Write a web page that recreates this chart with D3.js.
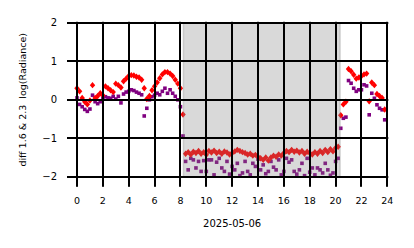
<!doctype html>
<html lang="en">
<head>
    <meta charset="utf-8">
    <script src="https://d3js.org/d3.v7.min.js"></script>
    <title>diff 1.6 & 2.3</title>
    <style>
        body { margin: 0; background: #fff; }
        svg text { font-family: "DejaVu Sans", sans-serif; fill: #000; }
    </style>
</head>
<body>
    <svg id="svg1"></svg>

    <script>
        // sampling: one value every 0.2 h starting at 0 h
        const t0 = 0, dt = 0.2;

        // red diamonds (1.6 diff)
        const redVals = [
            0.30, 0.22, 0.05, -0.05, -0.12, -0.02, 0.38, 0.05, 0.10, 0.17,
            0.12, 0.35, 0.30, 0.25, 0.20, 0.42, 0.38, 0.32, 0.48, 0.55,
            0.62, 0.64, 0.63, 0.60, 0.58, 0.52, 0.30, 0.02, 0.10, 0.25,
            0.35, 0.45, 0.56, 0.66, 0.72, 0.72, 0.68, 0.62, 0.52, 0.42,
            0.30, -0.38,
            -1.40, -1.36, -1.42, -1.35, -1.38, -1.33, -1.40, -1.36, -1.43, -1.33,
            -1.37, -1.32, -1.38, -1.35, -1.40, -1.34, -1.37, -1.42, -1.38, -1.34,
            -1.30, -1.33, -1.36, -1.38, -1.42, -1.40, -1.45, -1.43, -1.48, -1.52,
            -1.56, -1.50, -1.58, -1.50, -1.45, -1.48, -1.42, -1.45, -1.38, -1.33,
            -1.36, -1.30, -1.35, -1.32, -1.37, -1.33, -1.40, -1.35, -1.38, -1.42,
            -1.36, -1.40, -1.33, -1.38, -1.30, -1.36, -1.28, -1.34, -1.25, -1.22,
            -0.40, -0.12, -0.05, 0.80, 0.74, 0.65, 0.55, 0.58, 0.62, 0.66,
            0.68, -0.04, 0.45, 0.38, 0.15, 0.10, 0.05, -0.25
        ];

        // purple squares (2.3 diff)
        const purpleVals = [
            0.05, -0.12, -0.18, -0.25, -0.30, -0.24, 0.12, -0.05, -0.10, -0.05,
            0.04, 0.08, 0.05, 0.04, 0.09, 0.02, 0.09, -0.08, 0.15, 0.20,
            0.22, 0.26, 0.24, 0.20, 0.17, 0.13, -0.42, -0.22, 0.00, 0.08,
            0.12, 0.17, 0.13, 0.22, 0.30, 0.17, 0.26, 0.17, 0.09, 0.00,
            -0.18, -0.94,
            -1.60, -1.82, -1.52, -1.56, -1.77, -1.60, -1.86, -1.58, -1.86, -1.56,
            -1.56, -1.95, -1.62, -1.52, -1.77, -1.86, -1.60, -1.93, -1.73, -1.82,
            -1.65, -1.97, -1.90, -1.60, -1.86, -1.95, -1.65, -1.73, -1.54, -1.82,
            -1.69, -1.92, -1.86, -1.60, -1.75, -1.82, -1.56, -1.95, -1.86, -1.52,
            -1.62, -1.56, -1.86, -1.93, -1.82, -1.65, -1.97, -1.52, -1.88, -1.77,
            -1.95, -1.77, -1.82, -1.90, -1.65, -1.82, -1.96, -1.90, -1.60, -1.52,
            -0.74, -0.48, -0.45, 0.50, 0.43, 0.30, 0.22, 0.26, 0.26, 0.39,
            0.36, -0.39, 0.17, 0.04, -0.13, -0.22, -0.26, -0.52
        ];

        // night span (hours)
        const nightSpan = [8.23, 20.35];

        const xTicks = [0, 2, 4, 6, 8, 10, 12, 14, 16, 18, 20, 22, 24];
        const yTicks = [-2, -1, 0, 1, 2];
        const xLabel = "2025-05-06";
        const yLabel = "diff 1.6 & 2.3  log(Radiance)";

        let width = 414, height = 248;
        let plotL = 77, plotR = 387.3, plotT = 22.8, plotB = 176.8;
        let tickLen = 10;
        let gridColor = "#000000";

        let svg = d3.select("#svg1")
            .attr("width", width)
            .attr("height", height);

        let xScale = d3.scaleLinear().domain([0, 24]).range([plotL, plotR]);
        let yScale = d3.scaleLinear().domain([-2, 2]).range([plotB, plotT]);

        let red = redVals.map((v, i) => ({ h: t0 + i * dt, v: v }));
        let purple = purpleVals.map((v, i) => ({ h: t0 + i * dt, v: v }));

        // purple squares
        svg.append("g").selectAll("rect")
            .data(purple)
            .join("rect")
            .attr("x", d => xScale(d.h) - 1.8)
            .attr("y", d => yScale(d.v) - 1.8)
            .attr("width", 3.6)
            .attr("height", 3.6)
            .attr("fill", "purple");

        // red diamonds
        svg.append("g").selectAll("path")
            .data(red)
            .join("path")
            .attr("d", d => {
                let x = xScale(d.h), y = yScale(d.v);
                return `M${x},${y - 3.2}L${x + 2.7},${y}L${x},${y + 3.2}L${x - 2.7},${y}Z`;
            })
            .attr("fill", "red");

        // shaded night period, drawn over the points
        svg.append("rect")
            .attr("x", xScale(nightSpan[0]))
            .attr("y", plotT)
            .attr("width", xScale(nightSpan[1]) - xScale(nightSpan[0]))
            .attr("height", plotB - plotT)
            .attr("fill", "#808080")
            .attr("fill-opacity", 0.3);
        svg.append("g").selectAll("rect")
            .data(nightSpan)
            .join("rect")
            .attr("x", d => xScale(d) - 0.75)
            .attr("y", plotT)
            .attr("width", 1.5)
            .attr("height", plotB - plotT)
            .attr("fill", "#808080")
            .attr("fill-opacity", 0.3);

        // grid lines with outward ticks
        svg.append("g").selectAll("rect")
            .data(xTicks)
            .join("rect")
            .attr("x", d => Math.round(xScale(d)) - 1)
            .attr("y", plotT - 1)
            .attr("width", 2)
            .attr("height", plotB + tickLen - plotT + 1)
            .attr("fill", gridColor);

        svg.append("g").selectAll("rect")
            .data(yTicks)
            .join("rect")
            .attr("x", plotL - tickLen)
            .attr("y", d => Math.round(yScale(d)) - 1)
            .attr("width", plotR - plotL + tickLen + 1)
            .attr("height", 2)
            .attr("fill", gridColor);

        // tick labels
        svg.append("g").selectAll("text")
            .data(xTicks)
            .join("text")
            .attr("x", d => xScale(d))
            .attr("y", 201)
            .attr("dy", "0.35em")
            .attr("text-anchor", "middle")
            .attr("font-size", 9.5)
            .text(d => d);

        svg.append("g").selectAll("text")
            .data(yTicks)
            .join("text")
            .attr("x", 57)
            .attr("y", d => yScale(d))
            .attr("dy", "0.35em")
            .attr("text-anchor", "end")
            .attr("font-size", 10)
            .text(d => d < 0 ? "\u2212" + Math.abs(d) : d);

        svg.append("text")
            .attr("x", (plotL + plotR) / 2)
            .attr("y", 223.5)
            .attr("dy", "0.35em")
            .attr("text-anchor", "middle")
            .attr("font-size", 10)
            .text(xLabel);

        svg.append("text")
            .attr("transform", `translate(23, ${(plotT + plotB) / 2}) rotate(-90)`)
            .attr("dy", "0.35em")
            .attr("text-anchor", "middle")
            .attr("font-size", 9.5)
            .style("white-space", "pre")
            .text(yLabel);
    </script>
</body>
</html>
